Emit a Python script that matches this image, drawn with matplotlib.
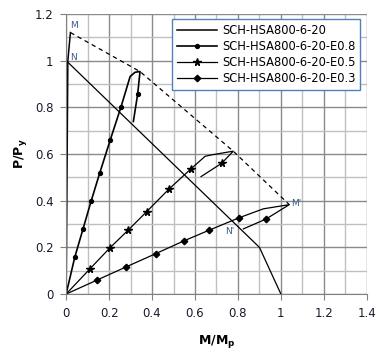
import matplotlib
matplotlib.use("Agg")
import matplotlib.pyplot as plt
from matplotlib.ticker import MultipleLocator

# ---- data ----
base_x = [0.0, 0.008, 0.02]
base_y = [0.0, 1.0, 1.12]

e08_x = [0.0, 0.040, 0.079, 0.116, 0.157, 0.205, 0.256, 0.298, 0.321, 0.344, 0.333, 0.313]
e08_y = [0.0, 0.157, 0.280, 0.397, 0.520, 0.659, 0.803, 0.932, 0.950, 0.953, 0.856, 0.739]
e08_marks = [1, 2, 3, 4, 5, 6, 10]

e05_x = [0.0, 0.112, 0.205, 0.288, 0.375, 0.478, 0.581, 0.647, 0.677, 0.740, 0.778, 0.724, 0.628]
e05_y = [0.0, 0.109, 0.199, 0.273, 0.353, 0.449, 0.536, 0.590, 0.596, 0.606, 0.612, 0.560, 0.503]
e05_marks = [1, 2, 3, 4, 5, 6, 11]

e03_x = [0.0, 0.144, 0.281, 0.417, 0.549, 0.667, 0.806, 0.918, 1.039, 0.930, 0.825]
e03_y = [0.0, 0.060, 0.117, 0.173, 0.228, 0.274, 0.327, 0.365, 0.383, 0.321, 0.279]
e03_marks = [1, 2, 3, 4, 5, 6, 9]

# peak envelope (dashed) and N-N' interaction line
env_x = [0.02, 0.344, 0.778, 1.039]
env_y = [1.12, 0.953, 0.612, 0.383]
nline_x = [0.0, 0.9, 1.0]
nline_y = [1.0, 0.2, 0.0]

labels = ["SCH-HSA800-6-20", "SCH-HSA800-6-20-E0.8",
          "SCH-HSA800-6-20-E0.5", "SCH-HSA800-6-20-E0.3"]

fig = plt.figure(figsize=(3.89, 3.56), dpi=100)
ax = fig.add_axes([0.170, 0.174, 0.773, 0.787])

ax.plot(base_x, base_y, color="black", lw=1.1, label=labels[0])
ax.plot(e08_x, e08_y, color="black", lw=1.2, marker="o", ms=2.8,
        markevery=e08_marks, label=labels[1])
ax.plot(e05_x, e05_y, color="black", lw=0.9, marker="*", ms=5.5,
        markevery=e05_marks, label=labels[2])
ax.plot(e03_x, e03_y, color="black", lw=0.9, marker="D", ms=3.3,
        markevery=e03_marks, label=labels[3])
ax.plot(env_x, env_y, color="black", lw=0.9, ls=(0, (3.5, 3)))
ax.plot(nline_x, nline_y, color="black", lw=0.9)

# point labels
lab_col = "#3a5a90"
ax.text(0.019, 1.14, "M", fontsize=6.5, color=lab_col)
ax.text(0.019, 1.003, "N", fontsize=6.5, color=lab_col)
ax.text(1.048, 0.378, "M'", fontsize=6.5, color=lab_col)
ax.text(0.74, 0.258, "N'", fontsize=6.5, color=lab_col)

ax.set_xlim(0, 1.4)
ax.set_ylim(0, 1.2)
ax.xaxis.set_minor_locator(MultipleLocator(0.1))
ax.yaxis.set_minor_locator(MultipleLocator(0.1))
ax.set_xticks([0, 0.2, 0.4, 0.6, 0.8, 1.0, 1.2, 1.4])
ax.set_yticks([0, 0.2, 0.4, 0.6, 0.8, 1.0, 1.2])
ax.set_xticklabels(["0", "0.2", "0.4", "0.6", "0.8", "1", "1.2", "1.4"])
ax.set_yticklabels(["0", "0.2", "0.4", "0.6", "0.8", "1", "1.2"])

ax.grid(which="major", color="#8a8a8a", lw=1.0)
ax.grid(which="minor", color="#c0c0c0", lw=1.0)
ax.set_axisbelow(True)
ax.tick_params(which="major", direction="out", length=4, color="#808080",
               labelsize=8.5, labelcolor="#1a1a2a", pad=5)
ax.tick_params(which="minor", length=0)
for side in ["top", "right"]:
    ax.spines[side].set_visible(False)
for side in ["left", "bottom"]:
    ax.spines[side].set_color("#808080")

ax.set_xlabel("M/M$_\\mathbf{p}$", fontsize=9, fontweight="bold", labelpad=10)
ax.set_ylabel("P/P$_\\mathbf{y}$", fontsize=9, fontweight="bold", labelpad=4)

leg = ax.legend(loc="upper right", bbox_to_anchor=(0.977, 0.982), fontsize=8.3,
                frameon=True, fancybox=False, borderpad=0.4, labelspacing=0.28,
                handlelength=3.5, handletextpad=0.4, borderaxespad=0)
leg.get_frame().set_edgecolor("#4f81bd")
leg.get_frame().set_linewidth(1.0)
leg.get_frame().set_facecolor("white")
leg.get_frame().set_alpha(1.0)

fig.savefig("out.png", dpi=100)
